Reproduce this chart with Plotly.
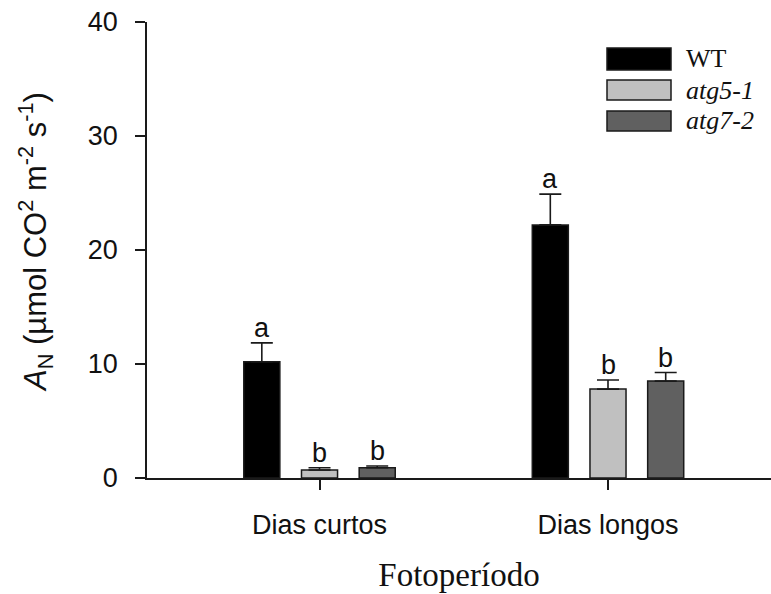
import plotly.graph_objects as go

# Photoperiod groups and genotype series
groups = ["Dias curtos", "Dias longos"]
genotypes = ["WT", "atg5-1", "atg7-2"]
wt_mean = [10.2, 22.2]
wt_se = [1.65, 2.7]
atg5_mean = [0.7, 7.8]
atg5_se = [0.2, 0.8]
atg7_mean = [0.9, 8.5]
atg7_se = [0.15, 0.75]
letters_wt = ["a", "a"]
letters_atg5 = ["b", "b"]
letters_atg7 = ["b", "b"]
y_ticks = [0, 10, 20, 30, 40]

means = [wt_mean, atg5_mean, atg7_mean]
errors = [wt_se, atg5_se, atg7_se]
letters = [letters_wt, letters_atg5, letters_atg7]
fills = ["#000000", "#c0c0c0", "#606060"]
legend_names = ["WT", "<i>atg5-1</i>", "<i>atg7-2</i>"]

bar_w = 0.125
step = 0.2
xpos = list(range(len(groups)))

fig = go.Figure()
annotations = []
for i, g in enumerate(genotypes):
    off = (i - 1) * step
    fig.add_trace(go.Bar(
        x=xpos, y=means[i], name=g,
        offset=off - bar_w / 2, width=bar_w,
        marker=dict(color=fills[i], line=dict(color="#1a1a1a", width=1.5)),
        error_y=dict(type="data", array=errors[i], arrayminus=[0] * len(groups),
                     symmetric=False, color="#1a1a1a", thickness=1.6, width=11),
        showlegend=False,
    ))
    for j in range(len(groups)):
        annotations.append(dict(
            x=xpos[j] + off, y=means[i][j] + errors[i][j], xref="x", yref="y",
            text=letters[i][j], showarrow=False, yanchor="bottom", yshift=-2,
            font=dict(family="Liberation Sans, Arial", size=27, color="#111"),
        ))

# Legend drawn as swatches with labels in the upper right
shapes = []
plot_l, plot_w, plot_b, plot_h = 147, 624, 478, 456
def px(x):
    return (x - plot_l) / plot_w
def py(y):
    return (plot_b - y) / plot_h
legend_rows = [(48, 70), (80, 100), (111, 131)]
for i, (y0, y1) in enumerate(legend_rows):
    shapes.append(dict(type="rect", xref="paper", yref="paper",
                       x0=px(607), x1=px(671), y0=py(y1), y1=py(y0),
                       fillcolor=fills[i], line=dict(color="#1a1a1a", width=1.5)))
    annotations.append(dict(x=px(684), y=py((y0 + y1) / 2), xref="paper", yref="paper",
                            text=legend_names[i], showarrow=False,
                            xanchor="left", yanchor="middle",
                            font=dict(family="Liberation Serif, Times New Roman", size=26,
                                      color="#111")))

# Y axis title
annotations.append(dict(
    x=px(36), y=py(242), xref="paper", yref="paper", textangle=-90,
    text="<i>A</i><sub>N</sub> (µmol CO<sup>2</sup> m<sup>-2</sup> s<sup>-1</sup>)",
    showarrow=False, xanchor="center", yanchor="middle",
    font=dict(family="Liberation Sans, Arial", size=31, color="#111"),
))

fig.update_layout(
    width=771, height=594,
    margin=dict(l=147, r=0, t=22, b=116),
    plot_bgcolor="white", paper_bgcolor="white",
    barmode="overlay",
    annotations=annotations, shapes=shapes,
    xaxis=dict(
        range=[-0.598, 1.565], tickvals=xpos, ticktext=groups,
        showline=True, linecolor="#1a1a1a", linewidth=1.5,
        ticks="outside", ticklen=10, tickwidth=1.5, tickcolor="#1a1a1a",
        showgrid=False, zeroline=False, ticklabelstandoff=12,
        tickfont=dict(family="Liberation Sans, Arial", size=27, color="#111"),
        title=dict(text="Fotoperíodo", standoff=24,
                   font=dict(family="Liberation Serif, Times New Roman", size=33,
                             color="#111")),
    ),
    yaxis=dict(
        range=[0, 40], tickvals=y_ticks,
        showline=True, linecolor="#1a1a1a", linewidth=1.5,
        ticks="outside", ticklen=10, tickwidth=1.5, tickcolor="#1a1a1a",
        showgrid=False, zeroline=False, ticklabelstandoff=12,
        tickfont=dict(family="Liberation Sans, Arial", size=27, color="#111"),
    ),
)

fig.write_html("out.html")
